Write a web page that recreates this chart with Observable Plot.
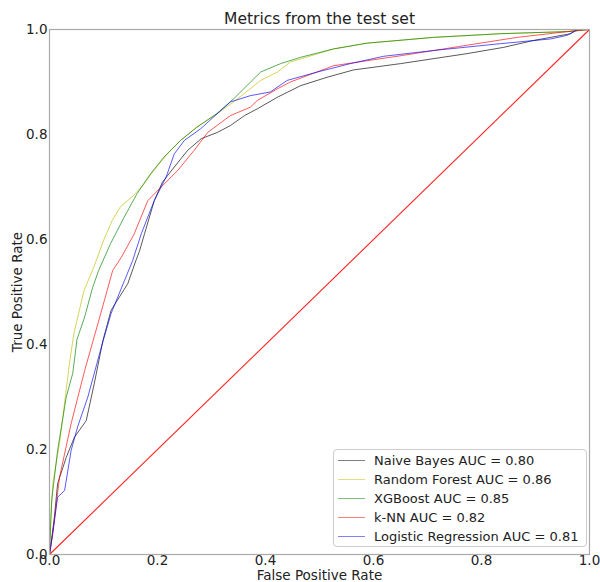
<!DOCTYPE html>
<html>
<head>
<meta charset="utf-8">
<script src="https://cdn.jsdelivr.net/npm/d3@7"></script>
<script src="https://cdn.jsdelivr.net/npm/@observablehq/plot@0.6"></script>
<style>
  html, body { margin: 0; padding: 0; background: #fff; }
  #wrap { position: relative; width: 600px; height: 582px; font-family: "DejaVu Sans", sans-serif; }
  #legend { position: absolute; left: 333px; top: 449px; width: 254px; height: 98px;
    border: 1px solid #cccccc; border-radius: 4px; background: rgba(255,255,255,0.8);
    font-size: 13px; color: #222; box-sizing: border-box; }
  .row { position: absolute; left: 0; height: 19px; line-height: 19px; white-space: nowrap; }
  .sw { position: absolute; left: 4px; top: 9px; width: 27px; height: 1.2px; }
  .lb { position: absolute; left: 40px; top: 0; }
</style>
</head>
<body>
<div id="wrap"><div id="chart"></div><div id="legend"></div></div>
<script>
const models = ["Naive Bayes", "Random Forest", "XGBoost", "k-NN", "Logistic Regression"];
const aucs = ["0.80", "0.86", "0.85", "0.82", "0.81"];
const colors = ["#000000", "#bfbf00", "#008000", "#ff0000", "#0000ff"];
const legendColors = ["#808080", "#dfdf80", "#80bf80", "#ff8080", "#8080ff"];

const nbFpr = [0,0.004,0.009,0.015,0.031,0.046,0.068,0.083,0.099,0.114,0.145,0.16,0.167,0.176,0.194,0.209,0.231,0.256,0.281,0.311,0.335,0.361,0.385,0.422,0.465,0.514,0.563,0.65,0.773,0.841,0.896,0.965,0.977,1];
const nbTpr = [0,0.03,0.071,0.135,0.185,0.223,0.255,0.326,0.408,0.465,0.516,0.56,0.579,0.611,0.674,0.709,0.738,0.77,0.792,0.804,0.817,0.836,0.849,0.871,0.893,0.909,0.923,0.935,0.954,0.966,0.979,0.992,1,1];

const rfFpr = [0,0.002,0.006,0.0185,0.037,0.045,0.064,0.082,0.1,0.116,0.131,0.156,0.175,0.193,0.218,0.243,0.273,0.31,0.341,0.391,0.422,0.446,0.526,0.588,0.711,0.835,0.959,1];
const rfTpr = [0,0.06,0.135,0.211,0.364,0.42,0.503,0.547,0.598,0.636,0.662,0.684,0.706,0.731,0.763,0.789,0.814,0.839,0.862,0.903,0.919,0.938,0.963,0.974,0.985,0.992,0.996,1];

const xgbFpr = [0,0.004,0.015,0.031,0.043,0.051,0.065,0.080,0.091,0.113,0.138,0.162,0.187,0.212,0.243,0.273,0.31,0.341,0.391,0.428,0.465,0.526,0.588,0.711,0.835,0.959,1];
const xgbTpr = [0,0.103,0.198,0.30,0.345,0.41,0.452,0.509,0.541,0.592,0.642,0.687,0.725,0.757,0.789,0.814,0.84,0.868,0.919,0.935,0.947,0.963,0.974,0.985,0.992,0.996,1];

const knnFpr = [0,0.006,0.0185,0.040,0.065,0.093,0.117,0.133,0.157,0.182,0.204,0.237,0.268,0.293,0.335,0.372,0.385,0.422,0.446,0.526,0.65,0.773,0.866,0.959,1];
const knnTpr = [0,0.04,0.147,0.249,0.350,0.452,0.541,0.566,0.611,0.674,0.697,0.731,0.77,0.804,0.836,0.852,0.865,0.887,0.9,0.931,0.95,0.97,0.985,0.996,1];

const lrFpr = [0,0.006,0.015,0.028,0.040,0.052,0.071,0.096,0.114,0.139,0.154,0.17,0.194,0.216,0.231,0.25,0.28,0.311,0.335,0.372,0.409,0.44,0.496,0.557,0.619,0.711,0.835,0.928,0.959,0.978,1];
const lrTpr = [0,0.04,0.109,0.122,0.198,0.243,0.30,0.395,0.459,0.522,0.56,0.611,0.674,0.719,0.763,0.789,0.811,0.84,0.862,0.874,0.881,0.903,0.919,0.935,0.949,0.96,0.973,0.982,0.989,1,1];

const diagonal = [{x1: 0, y1: 0, x2: 1, y2: 1}];
const ticks = [0, 0.2, 0.4, 0.6, 0.8, 1.0];

const series = [[nbFpr, nbTpr], [rfFpr, rfTpr], [xgbFpr, xgbTpr], [knnFpr, knnTpr], [lrFpr, lrTpr]];
const rows = [];
series.forEach(([f, t], i) => f.forEach((v, j) => rows.push({model: models[i], fpr: v, tpr: t[j]})));

const chart = Plot.plot({
  width: 600, height: 582,
  marginTop: 29, marginBottom: 28, marginLeft: 49, marginRight: 11,
  style: {fontFamily: "DejaVu Sans, sans-serif", fontSize: "13.5px", color: "#222", background: "#fff"},
  x: {domain: [0, 1]},
  y: {domain: [0, 1]},
  color: {domain: models, range: colors},
  marks: [
    Plot.axisX({ticks, tickFormat: ".1f", tickSize: 0, tickPadding: 0.5, fontSize: 13.5,
      label: "False Positive Rate", labelAnchor: "center", labelArrow: "none", labelOffset: 25}),
    Plot.axisY({ticks, tickFormat: ".1f", tickSize: 0, tickPadding: 2, fontSize: 13.5,
      label: "True Positive Rate", labelAnchor: "center", labelArrow: "none", labelOffset: 37}),
    Plot.line(rows, {x: "fpr", y: "tpr", z: "model", stroke: "model", strokeWidth: 1, strokeOpacity: 0.65}),
    Plot.link(diagonal, {x1: "x1", y1: "y1", x2: "x2", y2: "y2", stroke: "#ff2020", strokeWidth: 1.1}),
    Plot.frame({stroke: "#aaaaaa", strokeWidth: 1.2}),
    Plot.text(["Metrics from the test set"], {frameAnchor: "top", dy: -17, fontSize: 15.5, fill: "#222"})
  ]
});
document.getElementById("chart").appendChild(chart);

const leg = document.getElementById("legend");
models.forEach((m, i) => {
  const r = document.createElement("div");
  r.className = "row";
  r.style.top = (1 + i * 19) + "px";
  r.innerHTML = `<span class="sw" style="background:${legendColors[i]}"></span><span class="lb">${m} AUC = ${aucs[i]}</span>`;
  leg.appendChild(r);
});
</script>
</body>
</html>
